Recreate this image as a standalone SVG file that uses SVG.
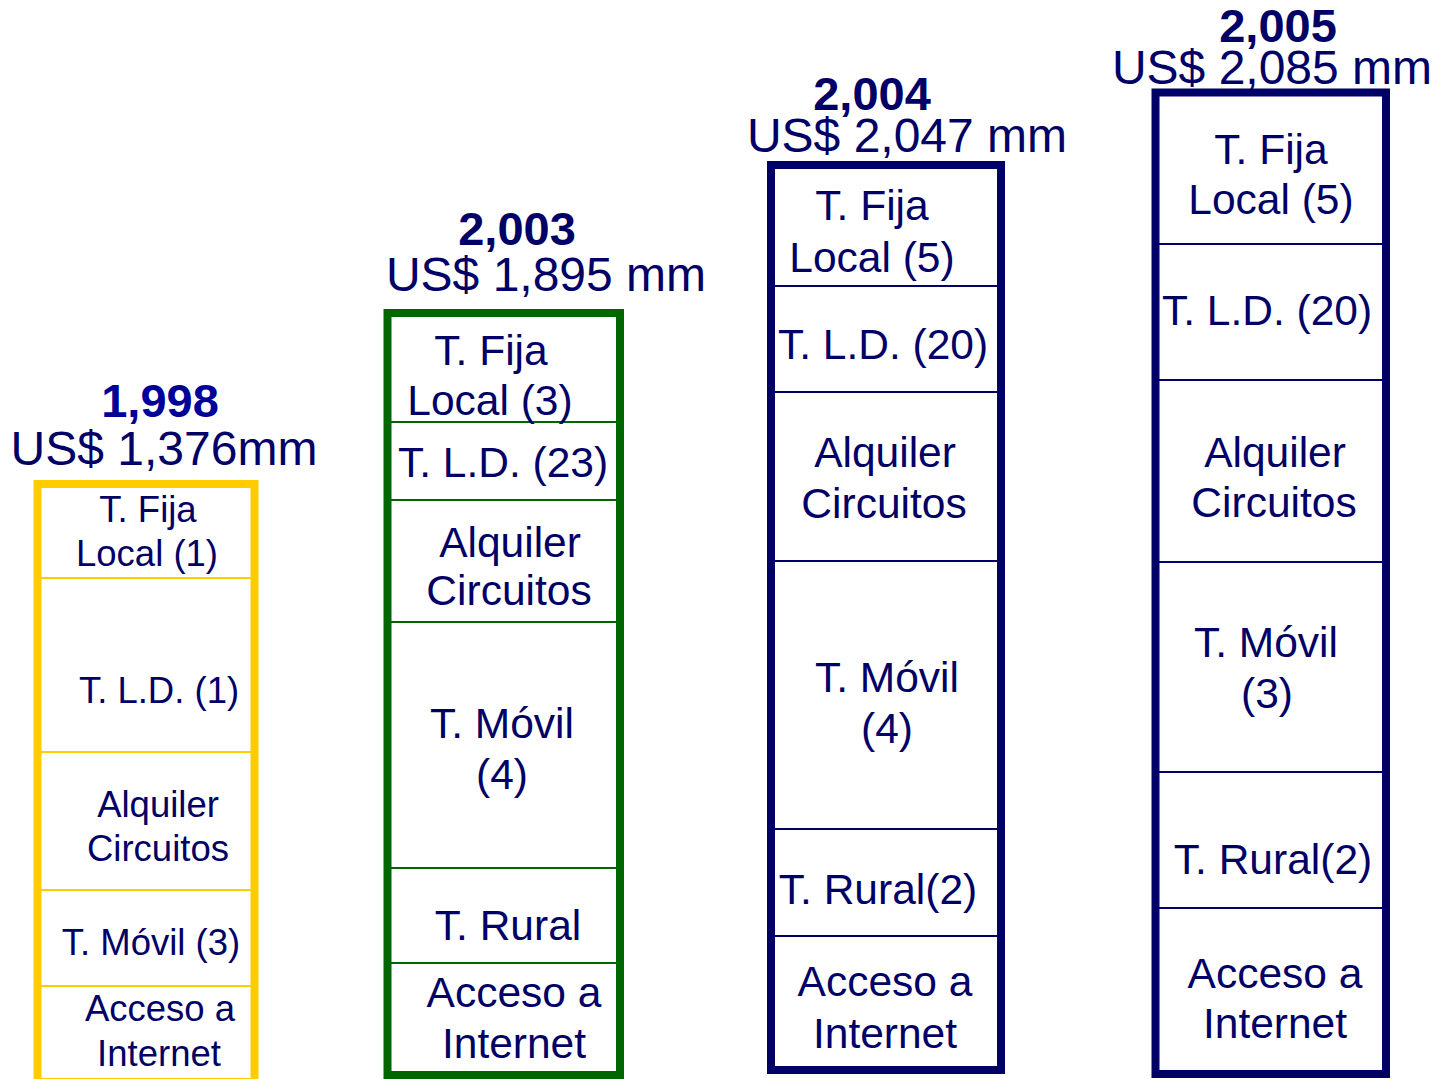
<svg xmlns="http://www.w3.org/2000/svg" width="1441" height="1079" viewBox="0 0 1441 1079">
<style>
text{font-family:"Liberation Sans",Arial,sans-serif;fill:#000066;text-anchor:middle}
.yr{font-weight:bold;font-size:47px}
.amt{font-size:48px}
.t1{font-size:36.5px}
.t{font-size:42.5px}
.box{fill:#ffffff;stroke-width:8}
.sep{stroke-width:2}
</style>
<rect width="1441" height="1079" fill="#ffffff"/>
<g id="col1998">
<text class="yr" x="160" y="417" style="fill:#000099">1,998</text>
<text class="amt" x="164" y="465">US$ 1,376mm</text>
<rect class="box" x="37.5" y="484" width="217" height="598" stroke="#FFCC00"/>
<g stroke="#FFCC00" class="sep"><line x1="41" y1="578" x2="251" y2="578"/><line x1="41" y1="752" x2="251" y2="752"/><line x1="41" y1="890" x2="251" y2="890"/><line x1="41" y1="986" x2="251" y2="986"/></g>
<text class="t1" x="148" y="522">T. Fija</text>
<text class="t1" x="147" y="566">Local (1)</text>
<text class="t1" x="159" y="703">T. L.D. (1)</text>
<text class="t1" x="158" y="817">Alquiler</text>
<text class="t1" x="158" y="861">Circuitos</text>
<text class="t1" x="151" y="955">T. Móvil (3)</text>
<text class="t1" x="160" y="1021">Acceso a</text>
<text class="t1" x="159" y="1066">Internet</text>
</g>
<g id="col2003">
<text class="yr" x="517" y="245">2,003</text>
<text class="amt" x="546" y="291">US$ 1,895 mm</text>
<rect class="box" x="387.5" y="313" width="232.5" height="762" stroke="#006600"/>
<g stroke="#006600" class="sep"><line x1="391" y1="422" x2="616" y2="422"/><line x1="391" y1="500" x2="616" y2="500"/><line x1="391" y1="622" x2="616" y2="622"/><line x1="391" y1="868" x2="616" y2="868"/><line x1="391" y1="963" x2="616" y2="963"/></g>
<text class="t" x="491" y="365">T. Fija</text>
<text class="t" x="490" y="415">Local (3)</text>
<text class="t" x="503" y="477">T. L.D. (23)</text>
<text class="t" x="510" y="557">Alquiler</text>
<text class="t" x="509" y="605">Circuitos</text>
<text class="t" x="502" y="738">T. Móvil</text>
<text class="t" x="502" y="789">(4)</text>
<text class="t" x="508" y="940">T. Rural</text>
<text class="t" x="514" y="1007">Acceso a</text>
<text class="t" x="514" y="1058">Internet</text>
</g>
<g id="col2004">
<text class="yr" x="872" y="110">2,004</text>
<text class="amt" x="907" y="152">US$ 2,047 mm</text>
<rect class="box" x="771" y="165" width="230" height="905" stroke="#000066"/>
<g stroke="#000066" class="sep"><line x1="775" y1="286" x2="997" y2="286"/><line x1="775" y1="392" x2="997" y2="392"/><line x1="775" y1="561" x2="997" y2="561"/><line x1="775" y1="829" x2="997" y2="829"/><line x1="775" y1="936" x2="997" y2="936"/></g>
<text class="t" x="872" y="220">T. Fija</text>
<text class="t" x="872" y="272">Local (5)</text>
<text class="t" x="883" y="359">T. L.D. (20)</text>
<text class="t" x="885" y="467">Alquiler</text>
<text class="t" x="884" y="518">Circuitos</text>
<text class="t" x="887" y="692">T. Móvil</text>
<text class="t" x="887" y="743">(4)</text>
<text class="t" x="878" y="904">T. Rural(2)</text>
<text class="t" x="885" y="996">Acceso a</text>
<text class="t" x="885" y="1048">Internet</text>
</g>
<g id="col2005">
<text class="yr" x="1278" y="42">2,005</text>
<text class="amt" x="1272" y="84">US$ 2,085 mm</text>
<rect class="box" x="1155.5" y="92.5" width="230.5" height="981.5" stroke="#000066"/>
<g stroke="#000066" class="sep"><line x1="1159" y1="244" x2="1382" y2="244"/><line x1="1159" y1="380" x2="1382" y2="380"/><line x1="1159" y1="562" x2="1382" y2="562"/><line x1="1159" y1="772" x2="1382" y2="772"/><line x1="1159" y1="908" x2="1382" y2="908"/></g>
<text class="t" x="1271" y="164">T. Fija</text>
<text class="t" x="1271" y="214">Local (5)</text>
<text class="t" x="1267" y="325">T. L.D. (20)</text>
<text class="t" x="1275" y="467">Alquiler</text>
<text class="t" x="1274" y="517">Circuitos</text>
<text class="t" x="1266" y="657">T. Móvil</text>
<text class="t" x="1267" y="708">(3)</text>
<text class="t" x="1273" y="874">T. Rural(2)</text>
<text class="t" x="1275" y="988">Acceso a</text>
<text class="t" x="1275" y="1038">Internet</text>
</g>
</svg>
